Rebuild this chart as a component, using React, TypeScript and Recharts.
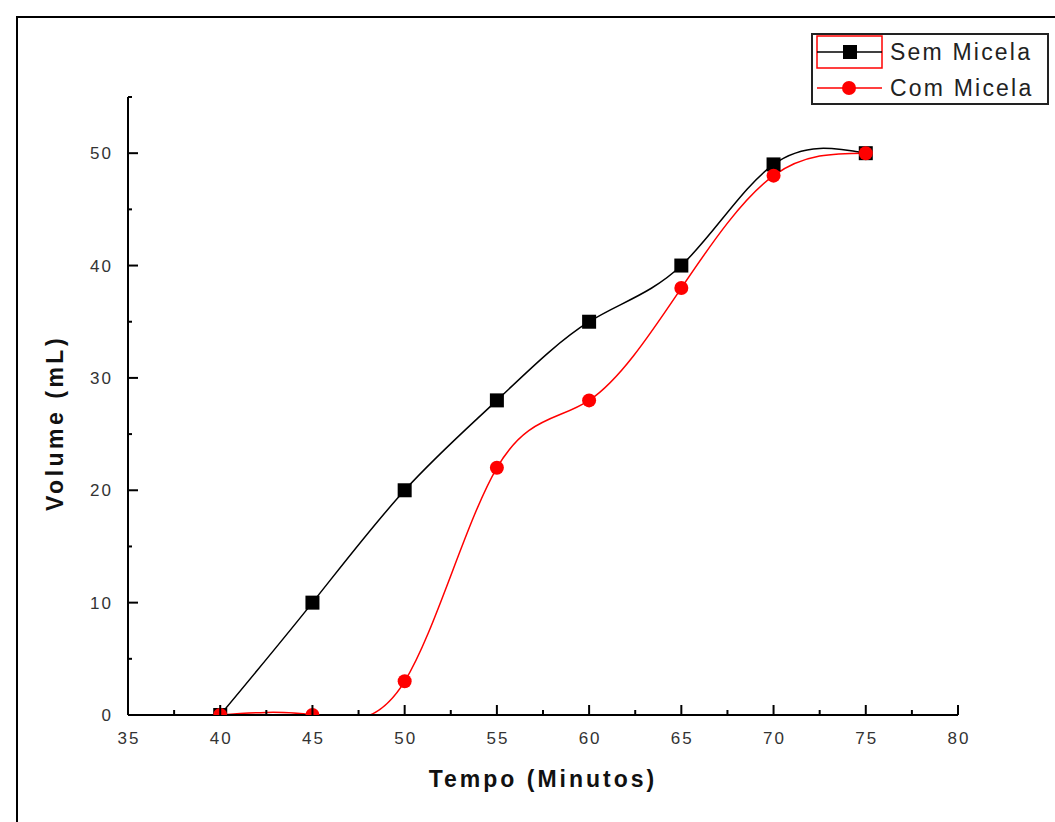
import { LineChart, Line, XAxis, YAxis, Legend } from 'recharts';

const tempo = [40, 45, 50, 55, 60, 65, 70, 75];
const semMicela = [0, 10, 20, 28, 35, 40, 49, 50];
const comMicela = [0, 0, 3, 22, 28, 38, 48, 50];

const xTicks = [35, 37.5, 40, 42.5, 45, 47.5, 50, 52.5, 55, 57.5, 60, 62.5, 65, 67.5, 70, 72.5, 75, 77.5, 80];
const yTicks = [0, 5, 10, 15, 20, 25, 30, 35, 40, 45, 50, 55];

const chartData = tempo.map((t, i) => ({
  tempo: t,
  sem: semMicela[i],
  com: comMicela[i],
}));

const FONT = '"Liberation Sans", Arial, sans-serif';

const XTick = (props: any) => {
  const { x, y, payload } = props;
  const major = payload.value % 5 === 0;
  return (
    <g>
      <line x1={x} x2={x} y1={y} y2={y - (major ? 10 : 5)} stroke="#000" strokeWidth={2} />
      {major && (
        <text x={x + 1} y={y + 29} textAnchor="middle" fontSize={17} letterSpacing={2} fill="#333" fontFamily={FONT}>
          {payload.value}
        </text>
      )}
    </g>
  );
};

const YTick = (props: any) => {
  const { x, y, payload } = props;
  const major = payload.value % 10 === 0;
  return (
    <g>
      <line x1={x} x2={x + (major ? 10 : 4)} y1={y} y2={y} stroke="#000" strokeWidth={2} />
      {major && (
        <text x={x - 15} y={y + 6} textAnchor="end" fontSize={17} letterSpacing={2} fill="#333" fontFamily={FONT}>
          {payload.value}
        </text>
      )}
    </g>
  );
};

const YTitle = (props: any) => {
  const { viewBox } = props;
  const cy = viewBox.y + viewBox.height / 2 + 17;
  return (
    <text
      x={63}
      y={cy}
      transform={`rotate(-90, 63, ${cy})`}
      textAnchor="middle"
      fontSize={23}
      fontWeight="bold"
      letterSpacing={3.5}
      fill="#111"
      fontFamily={FONT}
    >
      Volume (mL)
    </text>
  );
};

const SquareDot = (props: any) => {
  const { cx, cy, index } = props;
  if (cx == null || cy == null) return <g key={`s-${index}`} />;
  return <rect key={`s-${index}`} x={cx - 7} y={cy - 7} width={14} height={14} fill="#000" />;
};

const CircleDot = (props: any) => {
  const { cx, cy, index } = props;
  if (cx == null || cy == null) return <g key={`c-${index}`} />;
  return <circle key={`c-${index}`} cx={cx} cy={cy} r={7} fill="#ff0000" />;
};

const LegendBox = () => (
  <div
    style={{
      width: 238,
      height: 72,
      boxSizing: 'border-box',
      border: '2px solid #222',
      background: '#fff',
      position: 'relative',
      fontFamily: FONT,
    }}
  >
    <svg width={238} height={72} style={{ position: 'absolute', left: -2, top: -2 }}>
      <rect x={6} y={3} width={65} height={32} fill="none" stroke="#ff0000" strokeWidth={1.5} />
      <line x1={6} x2={71} y1={19} y2={19} stroke="#000" strokeWidth={1.5} />
      <rect x={32} y={12} width={14} height={14} fill="#000" />
      <line x1={6} x2={71} y1={55} y2={55} stroke="#ff0000" strokeWidth={1.5} />
      <circle cx={38} cy={55} r={7} fill="#ff0000" />
      <text x={79} y={27} fontSize={23} letterSpacing={2.2} fill="#222">Sem Micela</text>
      <text x={79} y={63} fontSize={23} letterSpacing={2.2} fill="#222">Com Micela</text>
    </svg>
  </div>
);

export default function App() {
  return (
    <div style={{ position: 'fixed', left: 0, top: 0, width: 1055, height: 822, overflow: 'hidden', background: '#fff' }}>
      <div
        style={{
          position: 'absolute',
          left: 16,
          top: 16,
          width: 1100,
          height: 900,
          border: '2px solid #000',
        }}
      />
      <div style={{ position: 'absolute', left: 0, top: 0 }}>
        <LineChart width={1055} height={822} data={chartData} margin={{ top: 97, right: 97, bottom: 67, left: 68 }}>
          <XAxis
            dataKey="tempo"
            type="number"
            domain={[35, 80]}
            ticks={xTicks}
            interval={0}
            height={40}
            tickSize={0}
            tickMargin={0}
            tick={<XTick />}
            axisLine={{ stroke: '#000', strokeWidth: 2 }}
            label={{
              value: 'Tempo (Minutos)',
              position: 'bottom',
              offset: 16,
              fontSize: 23,
              fontWeight: 'bold',
              letterSpacing: 3,
              fill: '#111',
              fontFamily: FONT,
            }}
          />
          <YAxis
            type="number"
            domain={[0, 55]}
            allowDataOverflow
            ticks={yTicks}
            interval={0}
            width={60}
            tickSize={0}
            tickMargin={0}
            tick={<YTick />}
            axisLine={{ stroke: '#000', strokeWidth: 2 }}
            label={<YTitle />}
          />
          <Legend
            layout="vertical"
            align="center"
            verticalAlign="middle"
            content={<LegendBox />}
            wrapperStyle={{ position: 'absolute', left: 811, top: 33, width: 238, height: 72 }}
          />
          <Line
            type="natural"
            dataKey="sem"
            name="Sem Micela"
            stroke="#000"
            strokeWidth={1.5}
            dot={<SquareDot />}
            activeDot={false}
            isAnimationActive={false}
          />
          <Line
            type="natural"
            dataKey="com"
            name="Com Micela"
            stroke="#ff0000"
            strokeWidth={1.5}
            dot={<CircleDot />}
            activeDot={false}
            isAnimationActive={false}
          />
        </LineChart>
      </div>
    </div>
  );
}
